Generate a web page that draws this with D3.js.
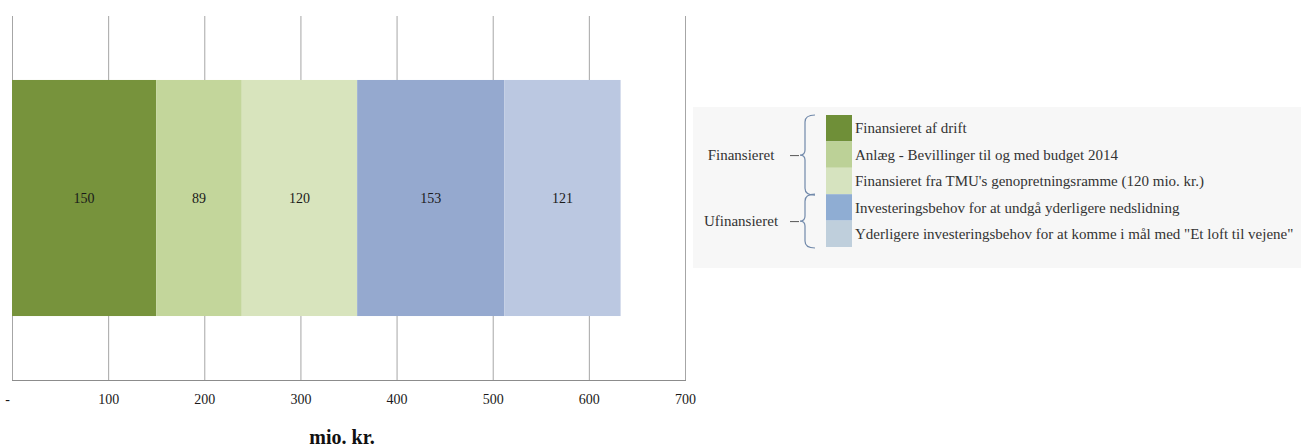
<!DOCTYPE html>
<html>
<head>
<meta charset="utf-8">
<script src="https://cdn.jsdelivr.net/npm/d3@7"></script>
<style>
  html, body { margin: 0; padding: 0; background: #ffffff; }
  svg { display: block; }
  svg text { font-family: "Liberation Serif", "Times New Roman", serif; }
</style>
</head>
<body>
<svg id="chart" width="1301" height="447"></svg>
<script>
// Stacked investment components (mio. kr.)
const categories = ["Vejinvestering"];
const seriesNames = [
  "Finansieret af drift",
  "Anlæg - Bevillinger til og med budget 2014",
  "Finansieret fra TMU's genopretningsramme (120 mio. kr.)",
  "Investeringsbehov for at undgå yderligere nedslidning",
  "Yderligere investeringsbehov for at komme i mål med \"Et loft til vejene\""
];
const seriesValues = [150, 89, 120, 153, 121];
const barColors = ["#77933c", "#c3d69b", "#d8e4bd", "#95a9cf", "#bbc8e1"];
const legendColors = ["#6f8f38", "#bcd197", "#d6e3bf", "#8fadd3", "#bfcfdc"];
const tickValues = [0, 100, 200, 300, 400, 500, 600, 700];
const groups = [
  { label: "Finansieret", from: 0, to: 2 },
  { label: "Ufinansieret", from: 3, to: 4 }
];
const axisTitle = "mio. kr.";

const serif = "Liberation Serif, Times New Roman, serif";
const svg = d3.select("#chart");

const x = d3.scaleLinear().domain([0, 700]).range([12, 685]);
const y = d3.scaleBand().domain(categories).range([16, 380]).paddingInner(0).paddingOuter(0.271);

// vertical gridlines
svg.append("g")
  .selectAll("line")
  .data(tickValues)
  .join("line")
  .attr("x1", d => x(d) + 0.5).attr("x2", d => x(d) + 0.5)
  .attr("y1", 16).attr("y2", 380)
  .attr("stroke", "#a6a6a6")
  .attr("stroke-width", 1);

// stacked segments
const stackRow = Object.fromEntries(seriesNames.map((n, i) => [n, seriesValues[i]]));
const stacked = d3.stack().keys(seriesNames)([stackRow]);

const segs = svg.append("g")
  .selectAll("g")
  .data(stacked)
  .join("g");

segs.append("rect")
  .attr("x", s => x(s[0][0]))
  .attr("width", s => x(s[0][1]) - x(s[0][0]))
  .attr("y", y(categories[0]))
  .attr("height", y.bandwidth())
  .attr("fill", (s, i) => barColors[i]);

segs.append("text")
  .attr("x", s => (x(s[0][0]) + x(s[0][1])) / 2)
  .attr("y", y(categories[0]) + y.bandwidth() / 2)
  .attr("dy", "0.35em")
  .attr("text-anchor", "middle")
  .attr("font-family", serif)
  .attr("font-size", 14)
  .attr("fill", "#1a1a1a")
  .text((s, i) => seriesValues[i]);

// x axis
const xAxis = d3.axisBottom(x)
  .tickValues(tickValues)
  .tickSize(0)
  .tickPadding(14)
  .tickFormat(d => d === 0 ? "-" : d3.format("d")(d));

const gx = svg.append("g")
  .attr("transform", "translate(0,380)")
  .call(xAxis);
gx.attr("font-family", serif);
gx.select(".domain").attr("stroke", "#8c8c8c").attr("d", `M${x(0)},0.5H${x(700) + 1}`);
gx.selectAll("text")
  .attr("font-family", serif)
  .attr("font-size", 14)
  .attr("fill", "#1a1a1a")
  .attr("dx", d => d === 0 ? -5 : 0);

svg.append("text")
  .attr("x", 342)
  .attr("y", 444)
  .attr("text-anchor", "middle")
  .attr("font-family", serif)
  .attr("font-size", 20)
  .attr("font-weight", "bold")
  .attr("fill", "#111")
  .text(axisTitle);

// legend panel
const lg = svg.append("g");
lg.append("rect")
  .attr("x", 693).attr("y", 107)
  .attr("width", 608).attr("height", 161)
  .attr("fill", "#f7f7f7");

const sw = d3.scaleBand().domain(d3.range(seriesNames.length)).range([115, 247]);

lg.selectAll("rect.sw")
  .data(seriesNames)
  .join("rect")
  .attr("class", "sw")
  .attr("x", 826).attr("width", 26)
  .attr("y", (d, i) => sw(i))
  .attr("height", sw.bandwidth())
  .attr("fill", (d, i) => legendColors[i]);

lg.selectAll("text.item")
  .data(seriesNames)
  .join("text")
  .attr("class", "item")
  .attr("x", 855)
  .attr("y", (d, i) => sw(i) + sw.bandwidth() / 2)
  .attr("dy", "0.35em")
  .attr("font-family", serif)
  .attr("font-size", 15)
  .attr("fill", "#333")
  .text(d => d);

// group braces
groups.forEach(g => {
  const top = sw(g.from);
  const bot = sw(g.to) + sw.bandwidth() + 1;
  const mid = (top + bot) / 2;
  const bx = 805, hx = 815, tip = 800;
  const p = `M${hx},${top} Q${bx},${top} ${bx},${top + 7} L${bx},${mid - 5} Q${bx},${mid} ${tip},${mid} ` +
            `Q${bx},${mid} ${bx},${mid + 5} L${bx},${bot - 7} Q${bx},${bot} ${hx},${bot}`;
  lg.append("path").attr("d", p).attr("fill", "none").attr("stroke", "#7189aa").attr("stroke-width", 1.2);
  lg.append("line")
    .attr("x1", 790).attr("x2", 799)
    .attr("y1", mid + 0.5).attr("y2", mid + 0.5)
    .attr("stroke", "#555").attr("stroke-width", 1);
  lg.append("text")
    .attr("x", 741).attr("y", mid)
    .attr("dy", "0.35em")
    .attr("text-anchor", "middle")
    .attr("font-family", serif)
    .attr("font-size", 15)
    .attr("fill", "#333")
    .text(g.label);
});
</script>
</body>
</html>
